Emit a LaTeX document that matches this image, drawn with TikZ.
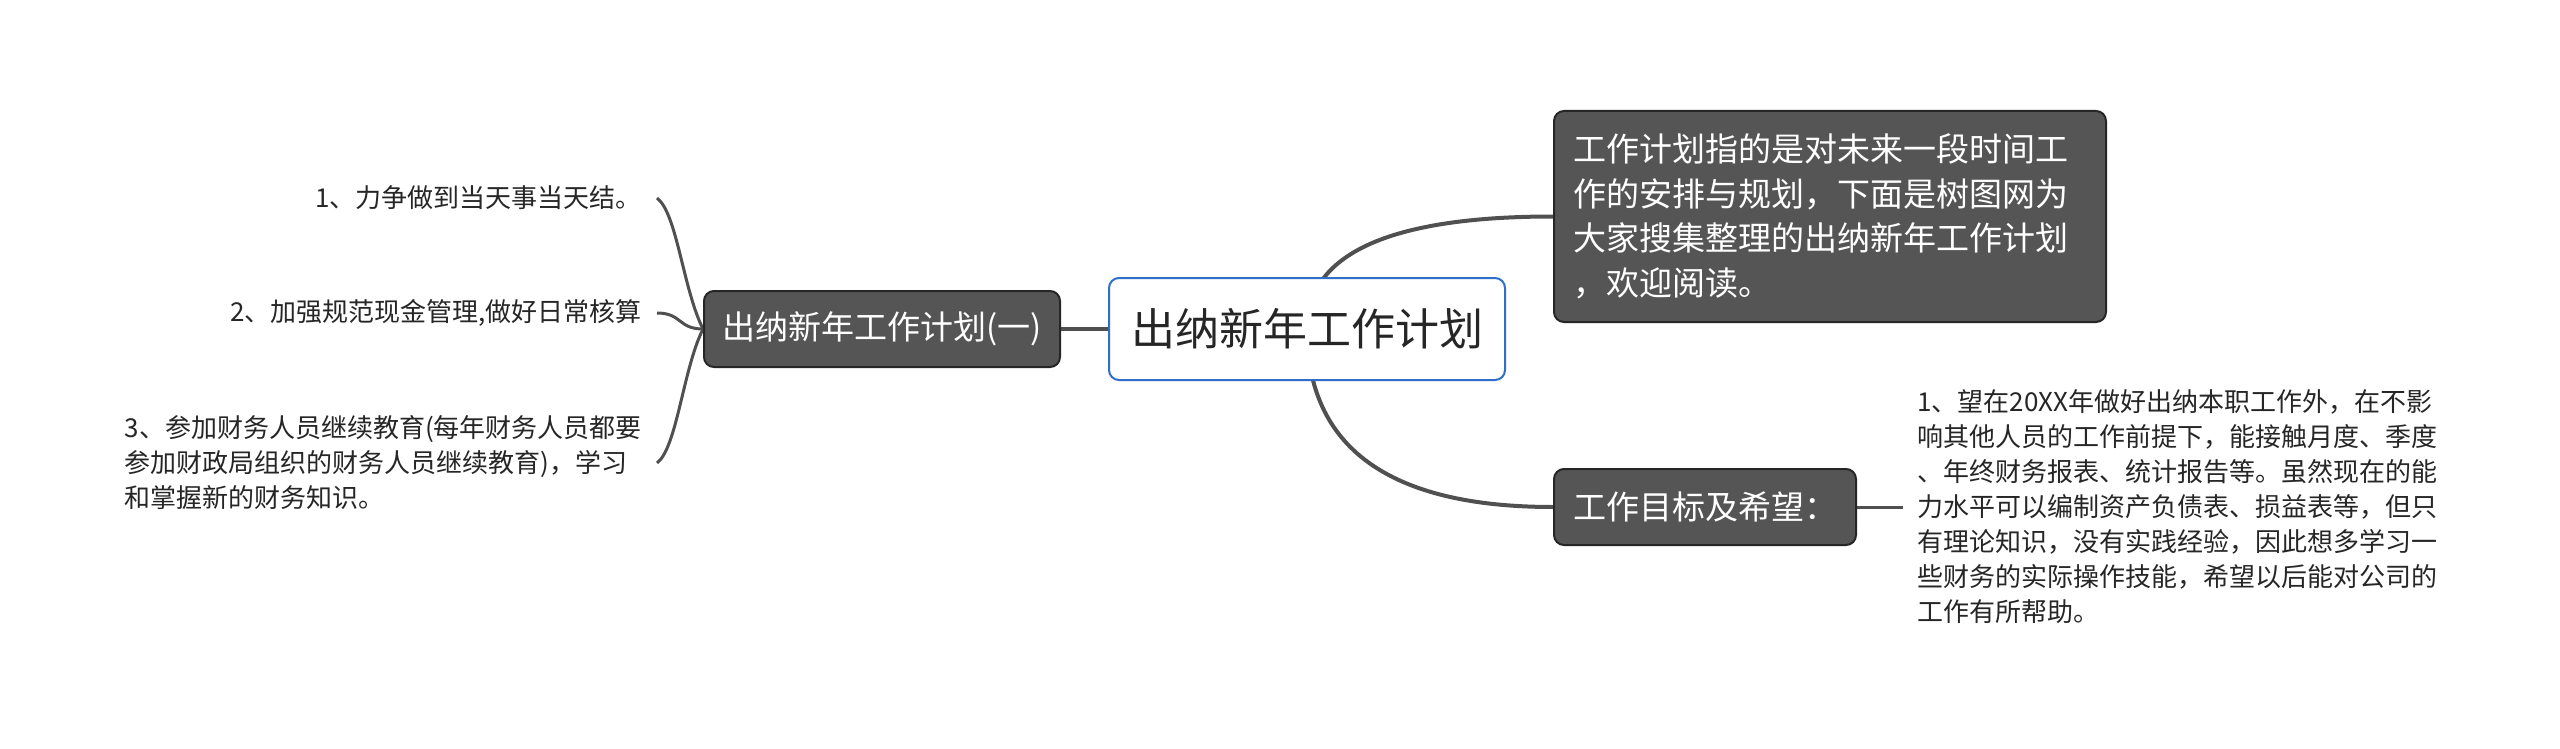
\documentclass[tikz,border=0pt]{standalone}
\usepackage{fontspec}
\setmainfont{Noto Sans CJK SC}
\usetikzlibrary{calc,backgrounds}
\definecolor{darkfill}{HTML}{555555}
\definecolor{edgecol}{HTML}{505050}
\definecolor{rootblue}{HTML}{2F6FCA}
\definecolor{txt}{HTML}{262626}
\begin{document}
\begin{tikzpicture}[x=1pt,y=-1pt,
  rootbox/.style={draw=rootblue, line width=2pt, rounded corners=10pt, fill=white, text=txt,
    font=\fontsize{44}{50}\selectfont, minimum width=396pt, minimum height=102pt, inner sep=0pt},
  darkbox/.style={draw=black!85, line width=2pt, rounded corners=10pt, fill=darkfill, text=white,
    font=\fontsize{33}{44.5}\selectfont, inner sep=0pt},
  leaftext/.style={text=txt, font=\fontsize{26}{35}\selectfont, inner ysep=0pt},
  conn/.style={draw=edgecol, line width=4pt},
  thinconn/.style={draw=edgecol, line width=3pt}
]
\useasboundingbox (0,0) rectangle (2560,749);

\node[rootbox] (root) at (1307,329) {出纳新年工作计划};
\node[darkbox, minimum width=356pt, minimum height=76pt] (left) at (882,329) {出纳新年工作计划(一)};
\node[darkbox, text width=514pt, inner xsep=19pt, minimum height=211pt, align=left] (top) at (1830,216.5)
  {工作计划指的是对未来一段时间工\\作的安排与规划，下面是树图网为\\大家搜集整理的出纳新年工作计划\\，欢迎阅读。};
\node[darkbox, minimum width=302pt, minimum height=76pt] (goal) at (1705,507) {工作目标及希望：};

\node[leaftext, anchor=east, inner xsep=15pt] (i1) at (657,198) {1、力争做到当天事当天结。};
\node[leaftext, anchor=east, inner xsep=15pt] (i2) at (657,313) {2、加强规范现金管理,做好日常核算};
\node[leaftext, anchor=east, inner xsep=15pt, align=left] (i3) at (657,463)
  {3、参加财务人员继续教育(每年财务人员都要\\参加财政局组织的财务人员继续教育)，学习\\和掌握新的财务知识。};

\node[leaftext, anchor=west, inner xsep=14pt, align=left] (gtext) at (1903,507)
  {1、望在20XX年做好出纳本职工作外，在不影\\响其他人员的工作前提下，能接触月度、季度\\、年终财务报表、统计报告等。虽然现在的能\\力水平可以编制资产负债表、损益表等，但只\\有理论知识，没有实践经验，因此想多学习一\\些财务的实际操作技能，希望以后能对公司的\\工作有所帮助。};

\begin{scope}[on background layer]
  \fill[white] (0,0) rectangle (2560,749);
  \draw[conn] (root.center) .. controls ($(root.center)!2/3!(root.center |- top.west)$)
     and ($(top.west)!2/3!(root.center |- top.west)$) .. (top.west);
  \draw[conn] (root.center) .. controls ($(root.center)!2/3!(root.center |- goal.west)$)
     and ($(goal.west)!2/3!(root.center |- goal.west)$) .. (goal.west);
  \draw[conn] (left.east) -- (root.west);
  \draw[thinconn] (goal.east) -- (gtext.west);
  \draw[thinconn] (left.west) .. controls +(-20,-40) and +(20,15) .. (i1.east);
  \draw[thinconn] (left.west) .. controls +(-25,0) and +(25,0) .. (i2.east);
  \draw[thinconn] (left.west) .. controls +(-20,40) and +(20,-15) .. (i3.east);
\end{scope}
\end{tikzpicture}
\end{document}
